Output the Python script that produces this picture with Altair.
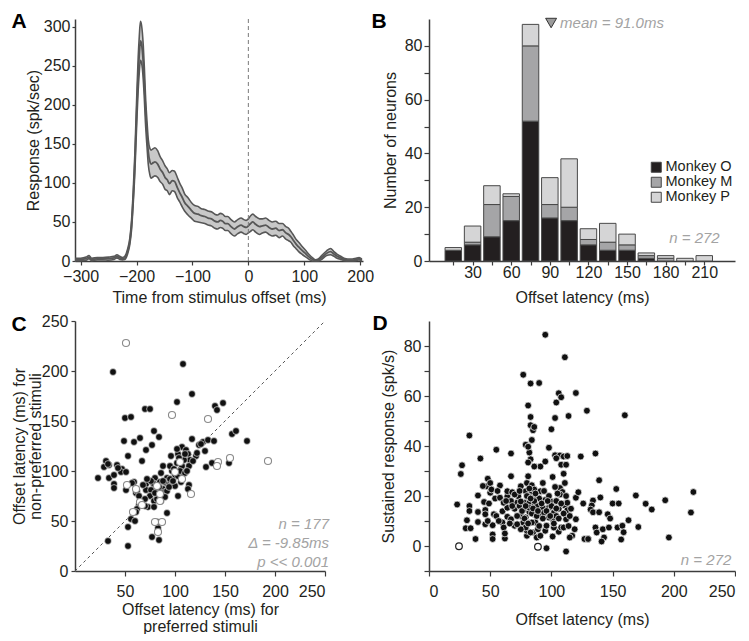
import altair as alt
import pandas as pd

FONT = "Liberation Sans"
TXT = "#231f20"
AX = "#3c3c3c"
GRAY_TXT = "#a3a3a3"

# ---------------- Panel A: population response ----------------
a_time = [-310, -300, -290, -285, -280, -270, -260, -250, -240, -235, -230, -225, -221, -216, -212,
          -209, -206, -203, -201, -199, -197, -195, -193, -191, -188, -186, -184, -181, -179, -176,
          -174, -170, -167, -162, -158, -153, -149, -145, -141, -136, -132, -127, -123, -118, -114,
          -108, -102, -96, -90, -84, -78, -72, -66, -60, -55, -50, -46, -41, -37, -31, -25, -19, -13,
          -8, -4, 0, 4, 8, 13, 20, 25, 31, 37, 43, 49, 55, 61, 67, 72, 76, 80, 85, 90, 97, 103, 109,
          115, 120, 125, 132, 140, 147, 153, 159, 165, 171, 178, 186, 192, 198, 203]
a_mean = [2, 2, 3, 5, 2, 3, 3, 3, 4, 6, 4, 3, 4, 12, 25,
          45, 80, 125, 165, 205, 240, 265, 282, 278, 255, 228, 195, 160, 140, 127,
          124, 126, 127, 124, 118, 113, 107, 104, 99, 103, 102, 94, 88, 81, 75,
          70, 65, 61, 60, 58, 57, 55, 54, 51, 50, 52, 51, 48, 48, 44, 41, 44, 46,
          44, 43, 45, 48, 50, 47, 44, 45, 46, 43, 41, 42, 39, 40, 36, 34, 31, 27, 22, 18, 13, 9, 5,
          2, 0.5, 1, 5, 10, 12, 9, 6, 4, 2, 1, 1, 2, 3, 1]
a_sem = [1.5, 1.5, 2, 2, 1.5, 1.5, 1.5, 2, 2, 2, 2, 1.5, 2, 3, 4,
         6, 8, 12, 15, 18, 21, 23, 25, 24, 22, 20, 18, 16, 16, 17,
         18, 18, 18, 17, 16, 15, 15, 14, 14, 13, 13, 13, 12, 12, 11,
         11, 10, 10, 10, 9, 9, 9, 9, 9, 9, 9, 9, 9, 9, 9, 9, 9, 9,
         9, 9, 9, 10, 10, 10, 10, 9, 9, 9, 9, 9, 9, 8, 8, 8, 7, 7, 6, 6, 5, 4, 3,
         2, 1, 1.5, 2.5, 3, 4, 3, 2.5, 2, 1.5, 1.5, 1.5, 1.5, 1.5, 1.5]

# ---------------- Panel B: offset latency histogram ----------------
b_latency = [15, 30, 45, 60, 75, 90, 105, 120, 135, 150, 165, 180, 195, 210]
b_monkey_o = [4, 6, 9, 15, 52, 16, 15, 6, 4, 4, 1, 0, 0, 0]
b_monkey_m = [0, 1, 12, 9, 28, 5, 5, 2, 3, 2, 1, 1, 0, 0]
b_monkey_p = [1, 6, 7, 1, 8, 10, 18, 4, 7, 4, 1, 1, 1, 2]
b_monkeys = ["Monkey O", "Monkey M", "Monkey P"]
b_colors = ["#231f20", "#a5a5a7", "#d5d5d6"]
b_mean_latency = 91.0
b_mean_marker_y = 88.5

# ---------------- Panel C: preferred vs non-preferred latency ----------------
c_pref_filled = [38, 108, 117, 102, 148, 140, 142, 70, 75, 50, 56, 79, 84, 65, 49, 59, 77, 71, 53, 67,
                 31, 29, 34, 42, 47, 46, 51, 23, 34, 39, 39, 39, 51, 59, 61, 71, 71, 80, 86, 88,
                 96, 103, 107, 111, 113, 115, 109, 114, 107, 97, 95, 100, 92, 91, 97, 106, 114, 113, 103, 92,
                 79, 82, 76, 75, 79, 73, 79, 64, 62, 61, 56, 60, 53, 33, 53, 77, 84, 83, 82, 117,
                 124, 128, 133, 139, 121, 130, 131, 137, 154, 157, 161, 172, 88, 89, 85, 82, 70, 43, 33, 107,
                 110, 102, 104, 86, 90, 100, 78, 84, 88, 92, 95, 99, 103, 105, 110, 76, 80, 86, 90, 94,
                 98, 102, 112, 118, 122, 126, 68, 72, 62, 57, 64, 70]
c_nonpref_filled = [199, 207, 177, 169, 168, 165, 161, 162, 162, 153, 154, 140, 134, 133, 130, 129, 126, 121, 115, 110,
                    110, 104, 106, 106, 102, 99, 99, 93, 93, 96, 87, 83, 81, 89, 78, 87, 81, 93, 98, 105,
                    115, 117, 124, 121, 117, 111, 111, 105, 97, 100, 105, 95, 93, 88, 86, 89, 86, 82, 75, 58,
                    86, 82, 81, 75, 70, 64, 64, 66, 62, 59, 52, 50, 44, 30, 25, 34, 31, 43, 49, 132,
                    126, 129, 131, 130, 115, 120, 104, 108, 108, 137, 140, 130, 82, 89, 89, 72, 65, 103, 107, 105,
                    117, 122, 113, 75, 79, 85, 88, 84, 90, 80, 92, 102, 95, 100, 98, 90, 78, 70, 74, 84,
                    90, 108, 100, 110, 118, 127, 86, 92, 80, 88, 75, 72]
c_pref_open = [51, 97, 133, 193, 155, 143, 142, 52, 61, 116, 65, 67, 58, 80, 87, 83, 85, 82, 105, 100, 107, 85]
c_nonpref_open = [228, 156, 152, 110, 113, 109, 105, 86, 82, 77, 69, 66, 59, 49, 49, 39, 70, 85, 109, 99, 92, 77]
c_stats = ["n = 177", "\u0394 = -9.85ms", "p << 0.001"]
c_stats_y = [47, 28, 9]

# ---------------- Panel D: sustained response vs latency ----------------
d_lat_filled = [23, 26, 27, 33, 42, 55, 67, 79, 77, 95, 111, 83, 90, 81, 83, 83, 85, 86, 106, 108,
                104, 103, 114, 120, 129, 100, 160, 98, 95, 91, 86, 83, 82, 81, 84, 103, 107, 110, 113, 104,
                108, 112, 124, 136, 139, 126, 130, 134, 140, 133, 132, 134, 139, 153, 150, 155, 169, 177, 182, 193,
                216, 214, 196, 171, 163, 146, 148, 136, 137, 142, 143, 141, 147, 154, 158, 159, 157, 127, 130, 120,
                119, 117, 115, 112, 96,
                31, 30, 34, 33, 33, 40, 40, 40, 38, 45, 46, 46, 46, 47, 48, 50, 50, 51, 52, 52,
                52, 53, 54, 58, 58, 60, 60, 61, 62, 62, 64, 64, 64, 64, 67, 68, 67, 70, 70, 72,
                73, 74, 75, 77, 78, 78, 79, 80, 81, 81, 80, 80, 82, 82, 84, 85, 86, 86, 87, 85,
                88, 89, 91, 93, 95, 94, 95, 96, 98, 99, 101, 101, 102, 104, 106, 107, 109, 106, 108, 110,
                111, 112, 113, 115, 116, 103, 101, 111, 110, 109, 107, 120, 122, 70, 75, 84, 91, 93, 82, 84,
                79, 75, 88, 90, 81, 86, 79, 83, 91, 75, 72, 67, 61, 55, 98, 102, 113, 104,
                76, 78, 80, 82, 84, 86, 88, 90, 92, 94, 96, 98, 100, 102, 104, 106, 108, 110, 112, 114,
                79, 81, 83, 85, 87, 89, 93, 97, 99, 105, 72, 74, 68, 66, 63, 57, 56, 49, 48, 44]
d_resp_filled = [16.6, 28.8, 32.3, 44.2, 35, 38.5, 37, 40.5, 68.5, 84.5, 75.5, 65, 65.2, 56.2, 51.6, 48.3, 46.3, 47.6, 61.1, 59.5,
                 57.4, 51.2, 52, 61.2, 54.1, 46.7, 52.3, 39.3, 33.8, 31.8, 31.8, 34.7, 37.4, 39.7, 42.4, 36.3, 36.2, 35.8, 36, 35.1,
                 32.5, 32.5, 35.8, 37, 26.3, 17, 2.8, 18.2, 19.4, 16.2, 14.6, 13.5, 13.5, 22.8, 17, 17, 20.2, 16.9, 14.6, 18.3,
                 21.6, 13.4, 3.4, 7.6, 10.3, 12.7, 11, 7.4, 5.4, 6.7, 3.4, 1.8, 7.4, 7.4, 8.1, 5.5, 2.6, 2.8, 2.8, 10.7,
                 6.7, 4.1, 3.4, -2.2, -0.9,
                 10.3, 7.1, 7.1, 16, 14, 20.2, 13.6, 9.6, 2.8, 17.6, 14.4, 12.7, 8.7, 23.9, 26.9, 25.2, 21.3, 22.6, 4.6, 2.8,
                 8.3, 12.7, 19, 24.2, 19.3, 13.9, 9.4, 7.4, 3, 5, 19.9, 21.9, 15.3, 11.7, 27.9, 21.5, 10.7, 14.9, 8.1, 17.3,
                 19.9, 16, 12, 9.4, 14.7, 17.3, 21.9, 25.2, 27.9, 33.4, 4.1, 6.1, 13.6, 17.3, 21.5, 19.3, 16, 12.7, 9.4, 5.4,
                 3.4, 6.7, 12.7, 15.3, 18.4, 13.3, 6.1, 8.1, 15.3, 18, 10.7, 3.8, 13.3, 18, 14.9, 23.2, 20.9, 5.7, 7.4, 7.4,
                 16.2, 10.7, 14.3, 12, 14.9, 23.6, 27.6, 25.2, 28.9, 21.6, 20.6, 19.3, 21.5, 20.6, 23.9, 24.3, 21.9, 25.2, 15.3, 9.4,
                 7.4, 17.8, 16, 19, 19.9, 22.6, 11.4, 5.4, 4.1, 6.7, 8.7, 18, 17.3, 12, 11.4, 7.4, 17.3, 12,
                 14, 11, 20, 23, 13, 18, 12, 8, 17, 22, 14, 20, 16, 9, 15, 11, 17, 13, 20, 8,
                 16, 9, 19, 15, 21, 14, 11, 18, 12, 21, 12, 22, 16, 9, 18, 10, 22, 17, 10, 24]
d_lat_open = [24.5, 89]
d_resp_open = [-0.1, -0.3]

# ================= data frames =================
dfA = pd.DataFrame({"t": a_time, "mean": a_mean, "sem": a_sem})
dfA["lo"] = (dfA["mean"] - dfA["sem"]).clip(lower=0)
dfA["hi"] = dfA["mean"] + dfA["sem"]

rows = []
for i, lat in enumerate(b_latency):
    for k, (name, vals) in enumerate(zip(b_monkeys, [b_monkey_o, b_monkey_m, b_monkey_p])):
        if vals[i] > 0:
            rows.append({"latency": lat, "count": vals[i], "monkey": name, "order": k})
dfB = pd.DataFrame(rows)

dfC_f = pd.DataFrame({"pref": c_pref_filled, "nonpref": c_nonpref_filled})
dfC_o = pd.DataFrame({"pref": c_pref_open, "nonpref": c_nonpref_open})
dfC_diag = pd.DataFrame({"pref": [0, 250], "nonpref": [0, 250]})
dfC_txt = pd.DataFrame({"pref": [250] * 3, "nonpref": c_stats_y, "label": c_stats})

dfD_f = pd.DataFrame({"lat": d_lat_filled, "resp": d_resp_filled})
dfD_o = pd.DataFrame({"lat": d_lat_open, "resp": d_resp_open})
dfD_txt = pd.DataFrame({"lat": [247], "resp": [-5.5], "label": ["n = 272"]})


def letter(ch, dx, dy):
    return alt.Chart(pd.DataFrame({"c": [ch]})).mark_text(
        font=FONT, fontSize=21, fontWeight="bold", color="black", align="center", baseline="middle"
    ).encode(text="c:N", x=alt.value(dx), y=alt.value(dy))


# ================= Panel A =================
WA, HA = 288, 242
axA_x = alt.Axis(values=[-300, -200, -100, 0, 100, 200], title="Time from stimulus offset (ms)",
                 tickSize=4, labelPadding=3, titleY=36, titleBaseline="middle")
axA_y = alt.Axis(values=[0, 50, 100, 150, 200, 250, 300], title="Response (spk/sec)",
                 tickSize=3, labelPadding=2, titleX=-42, titleBaseline="middle")
scA_x = alt.Scale(domain=[-310, 205], nice=False, zero=False)
scA_y = alt.Scale(domain=[0, 310], nice=False)


def ax_(f):
    return alt.X(f, scale=scA_x, axis=axA_x)


def ay_(f):
    return alt.Y(f, scale=scA_y, axis=axA_y)


baseA = alt.Chart(dfA)
bandA = baseA.mark_area(color="#c8c8c8", interpolate="monotone", opacity=1).encode(
    x=ax_("t:Q"), y=ay_("lo:Q"), y2="hi:Q")
lineHi = baseA.mark_line(color="#575757", strokeWidth=1.6, interpolate="monotone").encode(x=ax_("t:Q"), y=ay_("hi:Q"))
lineLo = baseA.mark_line(color="#575757", strokeWidth=1.6, interpolate="monotone").encode(x=ax_("t:Q"), y=ay_("lo:Q"))
lineMean = baseA.mark_line(color="#575757", strokeWidth=1.8, interpolate="monotone").encode(x=ax_("t:Q"), y=ay_("mean:Q"))
ruleA = alt.Chart(pd.DataFrame({"t": [0]})).mark_rule(color="#7a7a7a", strokeDash=[4, 3], strokeWidth=1).encode(
    x=ax_("t:Q"))
panelA = alt.layer(bandA, lineHi, lineLo, lineMean, ruleA, letter("A", -56, 3)).properties(width=WA, height=HA)

# ================= Panel B =================
WB, HB = 306, 242
scB_x = alt.Scale(domain=[0, 230], nice=False, zero=False)
scB_y = alt.Scale(domain=[0, 90], nice=False)
axB_x = alt.Axis(values=b_latency, labelExpr="datum.value % 30 == 0 ? datum.label : ''",
                 title="Offset latency (ms)", tickSize=4, labelPadding=-1, titleY=36, titleBaseline="middle")
axB_y = alt.Axis(values=[0, 10, 20, 30, 40, 50, 60, 70, 80], labelExpr="datum.value % 20 == 0 ? datum.label : ''",
                 title="Number of neurons", tickSize=5, labelPadding=2, titleX=-39, titleBaseline="middle")


def bx_(f):
    return alt.X(f, scale=scB_x, axis=axB_x)


def by_(f, **kw):
    return alt.Y(f, scale=scB_y, axis=axB_y, **kw)


barsB = alt.Chart(dfB).mark_bar(size=16.5, stroke="#484848", strokeWidth=1).encode(
    x=bx_("latency:Q"),
    y=by_("count:Q", stack="zero"),
    color=alt.Color("monkey:N", scale=alt.Scale(domain=b_monkeys, range=b_colors),
                    legend=alt.Legend(title=None, orient="none", legendX=220, legendY=141,
                                      symbolType="square", symbolSize=100, symbolStrokeColor="#444",
                                      symbolStrokeWidth=1, labelFont=FONT, labelFontSize=14.5,
                                      labelColor=TXT, rowPadding=-2, labelOffset=2)),
    order=alt.Order("order:Q"),
)
dfB_mean = pd.DataFrame({"latency": [b_mean_latency], "count": [b_mean_marker_y],
                         "label": ["mean = %.1fms" % b_mean_latency]})
triB = alt.Chart(dfB_mean).mark_point(shape="triangle-down", filled=True, fill="#9b9b9b", stroke="#333",
                                      strokeWidth=1, size=120, opacity=1).encode(x=bx_("latency:Q"), y=by_("count:Q"))
meanTxt = alt.Chart(dfB_mean).mark_text(font=FONT, fontSize=15, fontStyle="italic", color=GRAY_TXT,
                                        align="left", baseline="middle", dx=9).encode(
    x=bx_("latency:Q"), y=by_("count:Q"), text="label:N")
nTxtB = alt.Chart(pd.DataFrame({"latency": [222], "count": [8.5], "label": ["n = 272"]})).mark_text(
    font=FONT, fontSize=15, fontStyle="italic", color=GRAY_TXT, align="right", baseline="middle").encode(
    x=bx_("latency:Q"), y=by_("count:Q"), text="label:N")
panelB = alt.layer(barsB, triB, meanTxt, nTxtB, letter("B", -50, 3)).properties(width=WB, height=HB)

# ================= Panel C =================
WC, HC = 250, 250
scC = alt.Scale(domain=[0, 250], nice=False)
axC_x = alt.Axis(values=[50, 100, 150, 200, 250], title=["Offset latency (ms) for", "preferred stimuli"],
                 tickSize=5, labelPadding=7, titleY=38, titleBaseline="middle", titleLineHeight=17)
axC_y = alt.Axis(values=[0, 50, 100, 150, 200, 250], title=["Offset latency (ms) for", "non-preferred stimuli"],
                 tickSize=4, labelPadding=3, titleX=-56, titleBaseline="middle", titleLineHeight=16)


def cx_(f):
    return alt.X(f, scale=scC, axis=axC_x)


def cy_(f):
    return alt.Y(f, scale=scC, axis=axC_y)


diagC = alt.Chart(dfC_diag).mark_line(color="#555", strokeDash=[3, 3], strokeWidth=1).encode(
    x=cx_("pref:Q"), y=cy_("nonpref:Q"))
filledC = alt.Chart(dfC_f).mark_circle(size=46, color="#111111", opacity=1, stroke="white",
                                       strokeWidth=0.6).encode(x=cx_("pref:Q"), y=cy_("nonpref:Q"))
openC = alt.Chart(dfC_o).mark_point(shape="circle", size=50, filled=True, fill="white", stroke="#8a8a8a",
                                    strokeWidth=1.1, opacity=1).encode(x=cx_("pref:Q"), y=cy_("nonpref:Q"))
txtC = alt.Chart(dfC_txt).mark_text(font=FONT, fontSize=15, fontStyle="italic", color=GRAY_TXT,
                                    align="right", baseline="middle", dx=4).encode(
    x=cx_("pref:Q"), y=cy_("nonpref:Q"), text="label:N")
panelC = alt.layer(diagC, filledC, openC, txtC, letter("C", -56, 4)).properties(width=WC, height=HC)

# ================= Panel D =================
WD, HD = 306, 250
scD_x = alt.Scale(domain=[0, 250], nice=False)
scD_y = alt.Scale(domain=[-10, 90], nice=False, zero=False)
axD_x = alt.Axis(values=[0, 50, 100, 150, 200, 250], title="Offset latency (ms)",
                 tickSize=5, labelPadding=7, titleY=48, titleBaseline="middle")
axD_y = alt.Axis(values=[-10, 0, 10, 20, 30, 40, 50, 60, 70, 80],
                 labelExpr="datum.value % 20 == 0 ? datum.label : ''",
                 title="Sustained response (spk/s)", tickSize=5, labelPadding=3, titleX=-41,
                 titleBaseline="middle")


def dx_(f):
    return alt.X(f, scale=scD_x, axis=axD_x)


def dy_(f):
    return alt.Y(f, scale=scD_y, axis=axD_y)


filledD = alt.Chart(dfD_f).mark_circle(size=46, color="#111111", opacity=1, stroke="white",
                                       strokeWidth=0.7).encode(x=dx_("lat:Q"), y=dy_("resp:Q"))
openD = alt.Chart(dfD_o).mark_point(shape="circle", size=44, filled=True, fill="white", stroke="#222",
                                    strokeWidth=1.2, opacity=1).encode(x=dx_("lat:Q"), y=dy_("resp:Q"))
txtD = alt.Chart(dfD_txt).mark_text(font=FONT, fontSize=15, fontStyle="italic", color=GRAY_TXT,
                                    align="right", baseline="middle").encode(
    x=dx_("lat:Q"), y=dy_("resp:Q"), text="label:N")
panelD = alt.layer(filledD, openD, txtD, letter("D", -49, 3)).properties(width=WD, height=HD)

chart = alt.concat(
    panelA, panelB, panelC, panelD,
    columns=2, align="each", bounds="flush", spacing={"row": 60, "column": 66},
).resolve_scale(color="independent").properties(
    padding={"left": 2, "top": 3, "right": 0, "bottom": 0}
).configure_view(stroke=None).configure_axis(
    domainColor=AX, domainWidth=1.5, tickColor=AX, tickWidth=1.2, labelFont=FONT, labelFontSize=16,
    labelColor=TXT, titleFont=FONT, titleFontSize=16, titleFontWeight="normal", titleColor=TXT, grid=False
)

chart.save("out.html", embed_options={"renderer": "svg", "actions": False})
